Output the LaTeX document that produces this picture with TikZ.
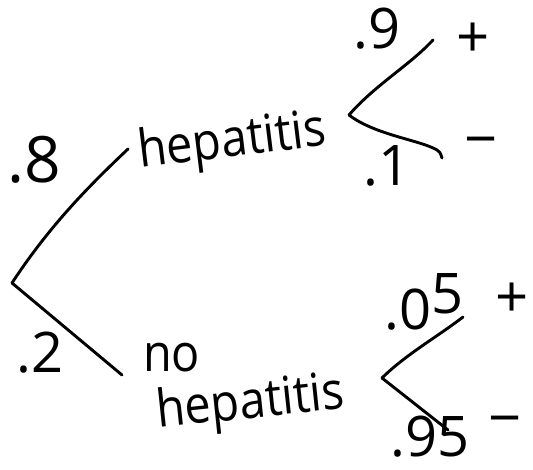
\documentclass[tikz,border=0pt]{standalone}
\usepackage{fontspec}
\setmainfont{Open Sans}
\begin{document}
\begin{tikzpicture}[x=1pt,y=-1pt,
  stroke/.style={line width=2.9pt, line cap=round, line join=round, black},
  word/.style={font=\fontsize{52}{52}\selectfont, inner sep=0pt},
  prob/.style={font=\fontsize{56}{56}\selectfont, inner sep=0pt},
  sign/.style={font=\fontsize{58}{58}\selectfont, inner sep=0pt}]
\useasboundingbox (0,0) rectangle (533,470);
% main branches
\coordinate (root) at (12,283);
\coordinate (ue) at (128,149);
\coordinate (le) at (122,375);
\draw[stroke] (root) .. controls (50,225) and (90,185) .. (ue);
\draw[stroke] (root) -- (le);
\node[prob, anchor=base, font=\fontsize{64}{64}\selectfont] (p8) at (34,183) {.8};
\node[prob, anchor=base] (p2) at (40,373) {.2};
% words
\node[word, anchor=base west, rotate=7] (hep) at (140,168) {\scalebox{0.9}[1]{hepatitis}};
\node[word, anchor=base west] (no) at (143,372) {\scalebox{0.9}[1]{no}};
\node[word, anchor=base west, rotate=6] (nohep) at (158,428) {\scalebox{0.9}[1]{hepatitis}};
% upper sub-tree
\coordinate (uv) at (349,115);
\coordinate (uu) at (433,40);
\coordinate (ud) at (442,158);
\draw[stroke] (uv) .. controls (375,85) and (410,65) .. (uu);
\draw[stroke] (uv) .. controls (375,135) and (420,140) .. (437,150) .. controls (440,152) .. (ud);
\node[prob, anchor=base] (p9) at (377,49) {.9};
\node[prob, anchor=base] (p1) at (387,186) {.1};
\node[sign] (up) at (473,40) {+};
\node[sign] (um) at (481,148) {−};
% lower sub-tree
\coordinate (lv) at (382,378);
\coordinate (lu) at (463,317);
\coordinate (ld) at (448,430);
\draw[stroke] (lv) .. controls (405,355) and (440,335) .. (lu);
\draw[stroke] (lv) -- (ld);
\node[prob, anchor=base] (p05) at (424,330) {.0\raisebox{16pt}{5}};
\node[prob, anchor=base] (p95) at (430,456) {.95};
\node[sign] (lp) at (512,300) {+};
\node[sign] (lm) at (505,427) {−};
\end{tikzpicture}
\end{document}
